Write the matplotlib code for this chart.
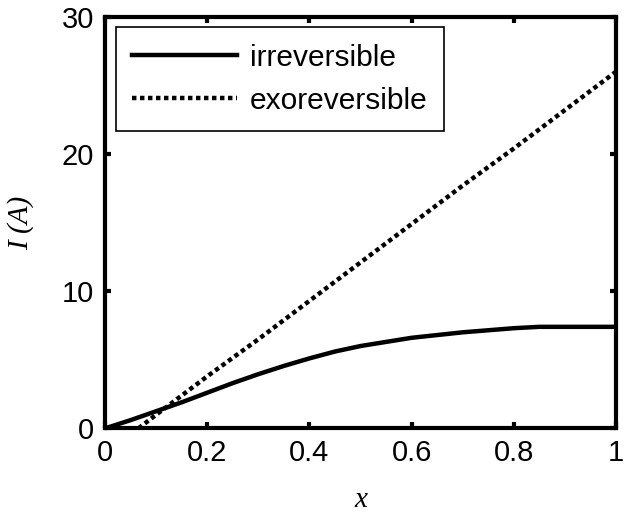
import matplotlib.pyplot as plt
import numpy as np

# values
x_irr = [0.0, 0.05, 0.1, 0.15, 0.2, 0.25, 0.3, 0.35, 0.4, 0.45, 0.5, 0.55, 0.6,
         0.65, 0.7, 0.75, 0.8, 0.85, 0.9, 1.0]
I_irr = [0.0, 0.6, 1.25, 1.9, 2.6, 3.3, 3.95, 4.55, 5.1, 5.6, 6.0, 6.3, 6.6,
         6.8, 7.0, 7.15, 7.3, 7.4, 7.4, 7.4]

x_exo = [0.065, 0.1, 0.15, 0.2, 0.3, 0.4, 0.5, 0.6, 0.7, 0.8, 0.9, 1.0]
I_exo = [0.0, 1.0, 2.4, 3.8, 6.5, 9.3, 12.1, 14.9, 17.7, 20.4, 23.2, 26.0]

xticks = [0, 0.2, 0.4, 0.6, 0.8, 1]
xticklabels = ['0', '0.2', '0.4', '0.6', '0.8', '1']
yticks = [0, 10, 20, 30]

plt.rcParams['font.family'] = ['Liberation Sans', 'DejaVu Sans']

fig = plt.figure(figsize=(6.27, 5.16), dpi=100)
ax = fig.add_axes([0.168, 0.17, 0.814, 0.797])

ax.plot(x_irr, I_irr, color='black', lw=3.2, label='irreversible')
ax.plot(x_exo, I_exo, color='black', lw=3.2, linestyle=(0, (1, 0.8)),
        dash_capstyle='butt', label='exoreversible')

ax.set_xlim(0, 1)
ax.set_ylim(0, 30)
ax.set_xticks(xticks)
ax.set_xticklabels(xticklabels)
ax.set_yticks(yticks)
ax.tick_params(direction='in', length=4, width=3, labelsize=21, pad=8,
               top=True, right=True)
for s in ax.spines.values():
    s.set_linewidth(3)

ax.set_xlabel('x', fontfamily='Liberation Serif', style='italic', fontsize=21, labelpad=14)
ax.set_ylabel('I (A)', fontfamily='Liberation Serif', style='italic', fontsize=21, labelpad=20)

leg = ax.legend(loc='upper left', fontsize=21.5, handlelength=3.5, handletextpad=0.45,
                borderaxespad=0.35, borderpad=0.55, labelspacing=0.5,
                fancybox=False, framealpha=1)
leg.get_frame().set_edgecolor('black')
leg.get_frame().set_linewidth(1.2)

fig.savefig('out.png', dpi=100)
